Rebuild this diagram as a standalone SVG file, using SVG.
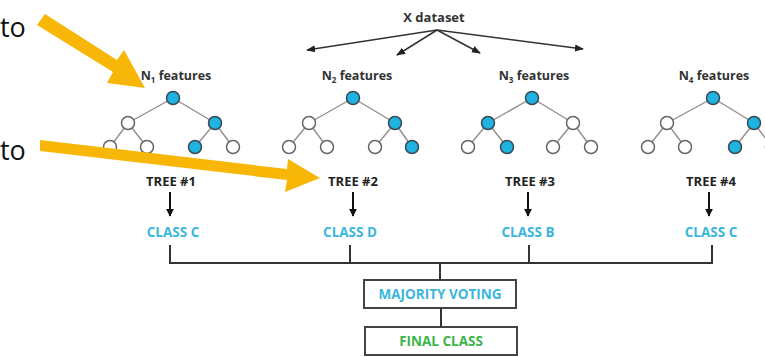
<svg xmlns="http://www.w3.org/2000/svg" width="765" height="357" viewBox="0 0 765 357">
<defs>
<style>
.t{font-family:"Open Sans","Liberation Sans",sans-serif;font-weight:700;text-anchor:middle}
.lbl{font-size:12.5px;fill:#333}
.tree{font-size:13px;fill:#222}
.cls{font-size:13.5px;fill:#3bb6dc}
.fin{font-size:13.5px;fill:#3cb54a}
.e{stroke:#8f8f8f;stroke-width:1.4;fill:none}
.b{fill:#1fb3e2;stroke:#3a4a55;stroke-width:1.5}
.w{fill:#fff;stroke:#666;stroke-width:1.5}
.c{stroke:#333;stroke-width:1.5;fill:none}
.big{font-family:"Open Sans","Liberation Sans",sans-serif;font-size:27px;fill:#111}
.box{fill:#fff;stroke:#444;stroke-width:2}
</style>
<marker id="ah" viewBox="0 0 10 10" refX="9" refY="5" markerWidth="6" markerHeight="6" orient="auto"><path d="M0,1 L10,5 L0,9 z" fill="#222"/></marker>
<marker id="dn" viewBox="0 0 10 10" refX="9" refY="5" markerWidth="4" markerHeight="4" orient="auto"><path d="M0,0 L10,5 L0,10 z" fill="#111"/></marker>
</defs>
<rect width="765" height="357" fill="#fff"/>

<g id="side-text">
<text class="big" x="0" y="37">to</text>
<text class="big" x="0" y="160">to</text>
</g>

<g id="dataset">
<text class="t lbl" x="434" y="22" style="font-size:13px">X dataset</text>
</g>

<g id="tree1">
<text class="t lbl" x="176" y="80">N<tspan font-size="8" dy="3">1</tspan><tspan dy="-3"> features</tspan></text>
<path class="e" d="M173,98 L128,123 M173,98 L215,123 M128,123 L110,147 M128,123 L147,147 M215,123 L195,147 M215,123 L233,147"/>
<circle class="b" cx="173" cy="98" r="6.5"/>
<circle class="w" cx="128" cy="123" r="6.5"/>
<circle class="b" cx="215" cy="123" r="6.5"/>
<circle class="w" cx="110" cy="147" r="6.5"/>
<circle class="w" cx="147" cy="147" r="6.5"/>
<circle class="b" cx="195" cy="147" r="6.5"/>
<circle class="w" cx="233" cy="147" r="6.5"/>
<text class="t tree" x="171" y="186">TREE #1</text>
<text class="t cls" x="173" y="237">CLASS C</text>
</g>

<g id="tree2">
<text class="t lbl" x="357" y="80">N<tspan font-size="8" dy="3">2</tspan><tspan dy="-3"> features</tspan></text>
<path class="e" d="M353,98 L309,123 M353,98 L395,123 M309,123 L289,147 M309,123 L327,147 M395,123 L375,147 M395,123 L412,147"/>
<circle class="b" cx="353" cy="98" r="6.5"/>
<circle class="w" cx="309" cy="123" r="6.5"/>
<circle class="b" cx="395" cy="123" r="6.5"/>
<circle class="w" cx="289" cy="147" r="6.5"/>
<circle class="w" cx="327" cy="147" r="6.5"/>
<circle class="w" cx="375" cy="147" r="6.5"/>
<circle class="b" cx="412" cy="147" r="6.5"/>
<text class="t tree" x="353" y="186">TREE #2</text>
<text class="t cls" x="350" y="237">CLASS D</text>
</g>

<g id="tree3">
<text class="t lbl" x="534" y="80">N<tspan font-size="8" dy="3">3</tspan><tspan dy="-3"> features</tspan></text>
<path class="e" d="M532,98 L488,123 M532,98 L573,123 M488,123 L468,147 M488,123 L507,147 M573,123 L553,147 M573,123 L591,147"/>
<circle class="b" cx="532" cy="98" r="6.5"/>
<circle class="b" cx="488" cy="123" r="6.5"/>
<circle class="w" cx="573" cy="123" r="6.5"/>
<circle class="w" cx="468" cy="147" r="6.5"/>
<circle class="b" cx="507" cy="147" r="6.5"/>
<circle class="w" cx="553" cy="147" r="6.5"/>
<circle class="w" cx="591" cy="147" r="6.5"/>
<text class="t tree" x="530" y="186">TREE #3</text>
<text class="t cls" x="528" y="237">CLASS B</text>
</g>

<g id="tree4">
<text class="t lbl" x="714" y="80">N<tspan font-size="8" dy="3">4</tspan><tspan dy="-3"> features</tspan></text>
<path class="e" d="M713,98 L667,123 M713,98 L754,123 M667,123 L648,147 M667,123 L685,147 M754,123 L735,147 M754,123 L772,147"/>
<circle class="b" cx="713" cy="98" r="6.5"/>
<circle class="w" cx="667" cy="123" r="6.5"/>
<circle class="b" cx="754" cy="123" r="6.5"/>
<circle class="w" cx="648" cy="147" r="6.5"/>
<circle class="w" cx="685" cy="147" r="6.5"/>
<circle class="b" cx="735" cy="147" r="6.5"/>
<circle class="w" cx="772" cy="147" r="6.5"/>
<text class="t tree" x="711" y="186">TREE #4</text>
<text class="t cls" x="711" y="237">CLASS C</text>
</g>

<g id="majority">
<rect class="box" x="364" y="280" width="152" height="28"/>
<text class="t cls" x="440" y="299">MAJORITY VOTING</text>
</g>
<g id="final">
<rect class="box" x="365" y="327" width="152" height="28"/>
<text class="t fin" x="441" y="346">FINAL CLASS</text>
</g>

<g id="connectors">
<path class="c" d="M437,30 L307,50" marker-end="url(#ah)"/>
<path class="c" d="M437,30 L397,55" marker-end="url(#ah)"/>
<path class="c" d="M437,30 L480,53" marker-end="url(#ah)"/>
<path class="c" d="M437,30 L583,49" marker-end="url(#ah)"/>
<g stroke="#111" stroke-width="2" fill="none">
<path d="M170,192 L170,216" marker-end="url(#dn)"/>
<path d="M353,192 L353,216" marker-end="url(#dn)"/>
<path d="M528,192 L528,216" marker-end="url(#dn)"/>
<path d="M709,192 L709,216" marker-end="url(#dn)"/>
</g>
<path d="M170,245 L170,263 L712,263 L712,245 M350,245 L350,263 M529,245 L529,263 M440,263 L440,280 M441,308 L441,327" stroke="#333" stroke-width="2" fill="none"/>
</g>

<g id="orange-arrows" fill="#f8b606">
<path d="M37,25 L45,14 L117,60 L124,50 L145,88 L107,83 L113,72 Z"/>
<path d="M40,140 L40,151 L287,180 L285,192 L320,178 L288,159 L287,169 Z"/>
</g>
</svg>
